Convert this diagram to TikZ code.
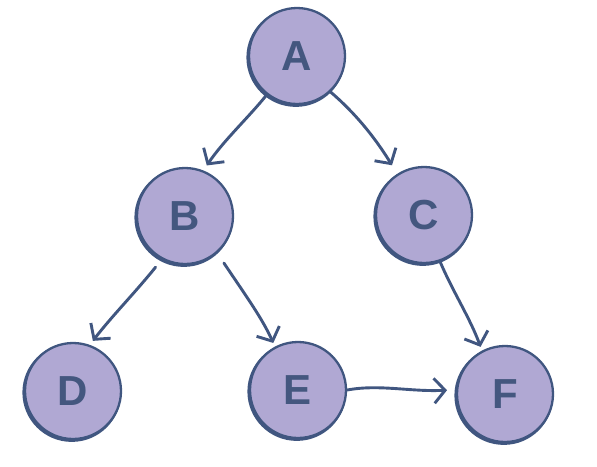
\documentclass[tikz,border=0pt]{standalone}
\usepackage{fontspec}
\setmainfont{Liberation Sans}
\usetikzlibrary{arrows.meta}
\definecolor{nodefill}{HTML}{B0A8D3}
\definecolor{edgecol}{HTML}{405680}
\definecolor{txtcol}{HTML}{44577F}
\tikzset{
  vertex/.style={circle, fill=nodefill, draw=edgecol, line width=2.3pt,
    minimum size=96pt, inner sep=0pt, text=txtcol,
    font=\fontsize{42}{42}\selectfont\bfseries,
    preaction={draw=edgecol, line width=2.8pt, transform canvas={shift={(-1.2pt,-1.5pt)}}}},
  link/.style={draw=edgecol, line width=2.9pt, line cap=round, line join=round,
    -{Straight Barb[length=11pt, width=25pt, line width=2.9pt]}}
}
\begin{document}
\begin{tikzpicture}[x=1pt, y=-1pt]
\useasboundingbox (0,0) rectangle (597,466);
\node[vertex] (A) at (297,56) {A};
\node[vertex] (B) at (185,216) {B};
\node[vertex] (C) at (424,215) {C};
\node[vertex] (D) at (73,391) {D};
\node[vertex] (E) at (298,390) {E};
\node[vertex] (F) at (505,394) {F};
\draw[link, shorten >=6pt] (A.232) .. controls (250,116) and (224,140) .. (B.68);
\draw[link, shorten >=10pt] (A.-47) .. controls (354,112) and (374,136) .. (C.123);
\draw[link, shorten <=10pt, shorten >=5pt] (B.242) .. controls (133,295) and (112,316) .. (D.70);
\draw[link, shorten <=12pt, shorten >=4pt] (B.-49) .. controls (246,296) and (262,318) .. (E.118);
\draw[link, shorten >=4pt] (C.-71) .. controls (453,292) and (470,318) .. (F.118);
\draw[link, shorten >=9pt] (E.0) .. controls (380,384) and (410,392) .. (F.175);
\end{tikzpicture}
\end{document}
